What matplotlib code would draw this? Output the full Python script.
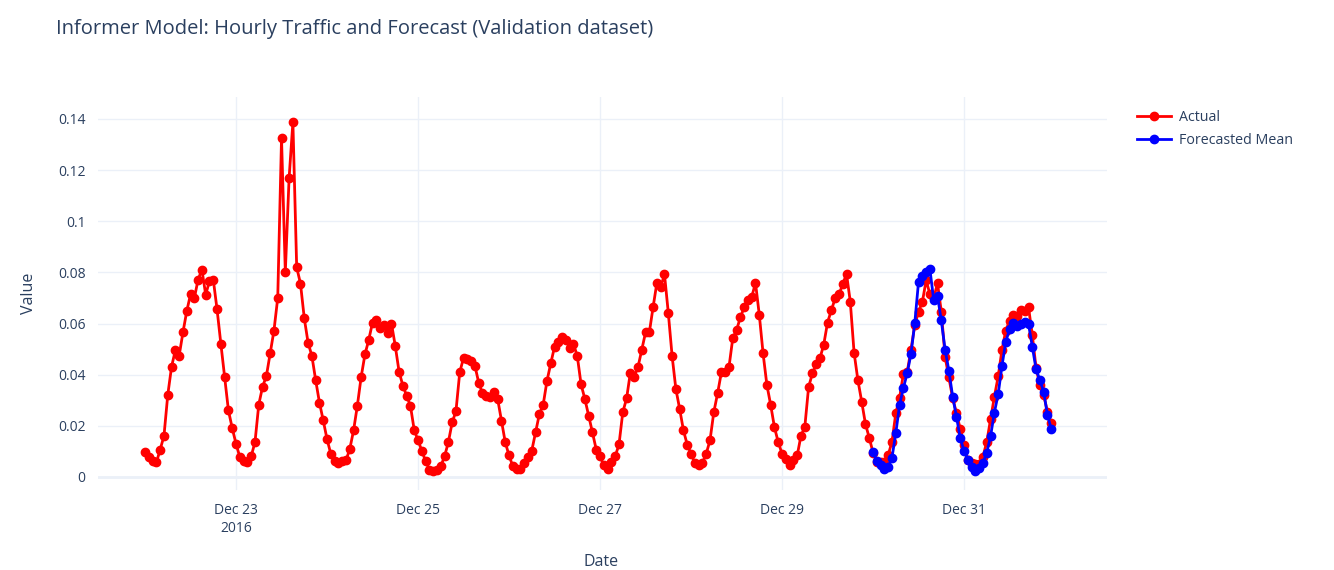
import numpy as np
import pandas as pd
import matplotlib
matplotlib.use("Agg")
import matplotlib.pyplot as plt
import matplotlib.dates as mdates

# hourly values, Dec 22 00:00 -> Dec 31 23:00 (2016)
actual = [
    # Dec 22
    0.0096, 0.0077, 0.0064, 0.0057, 0.0107, 0.0161, 0.0321, 0.0431, 0.0496, 0.0474, 0.0565, 0.0648,
    0.0714, 0.0699, 0.0772, 0.0811, 0.0713, 0.0766, 0.0772, 0.0655, 0.0521, 0.0392, 0.0260, 0.0191,
    # Dec 23
    0.0130, 0.0078, 0.0061, 0.0057, 0.0081, 0.0136, 0.0283, 0.0353, 0.0394, 0.0483, 0.0572, 0.0700,
    0.1324, 0.0801, 0.1170, 0.1387, 0.0820, 0.0756, 0.0621, 0.0525, 0.0474, 0.0379, 0.0291, 0.0221,
    # Dec 24
    0.0148, 0.0090, 0.0061, 0.0055, 0.0061, 0.0065, 0.0109, 0.0182, 0.0279, 0.0391, 0.0479, 0.0536,
    0.0604, 0.0613, 0.0582, 0.0595, 0.0564, 0.0600, 0.0512, 0.0412, 0.0357, 0.0317, 0.0278, 0.0183,
    # Dec 25
    0.0143, 0.0103, 0.0061, 0.0029, 0.0022, 0.0026, 0.0042, 0.0081, 0.0136, 0.0213, 0.0257, 0.0409,
    0.0466, 0.0460, 0.0455, 0.0435, 0.0369, 0.0327, 0.0318, 0.0314, 0.0334, 0.0305, 0.0220, 0.0136,
    # Dec 26
    0.0084, 0.0042, 0.0031, 0.0032, 0.0055, 0.0078, 0.0103, 0.0174, 0.0246, 0.0282, 0.0375, 0.0444,
    0.0509, 0.0526, 0.0546, 0.0535, 0.0503, 0.0520, 0.0473, 0.0362, 0.0305, 0.0240, 0.0174, 0.0107,
    # Dec 27
    0.0081, 0.0045, 0.0032, 0.0057, 0.0081, 0.0127, 0.0253, 0.0307, 0.0408, 0.0392, 0.0429, 0.0498,
    0.0565, 0.0565, 0.0665, 0.0760, 0.0743, 0.0792, 0.0642, 0.0474, 0.0344, 0.0266, 0.0182, 0.0126,
    # Dec 28
    0.0091, 0.0055, 0.0048, 0.0055, 0.0091, 0.0143, 0.0253, 0.0327, 0.0409, 0.0409, 0.0429, 0.0542,
    0.0574, 0.0624, 0.0663, 0.0691, 0.0704, 0.0759, 0.0634, 0.0483, 0.0360, 0.0282, 0.0194, 0.0136,
    # Dec 29
    0.0091, 0.0070, 0.0045, 0.0068, 0.0084, 0.0162, 0.0195, 0.0351, 0.0405, 0.0440, 0.0464, 0.0518,
    0.0604, 0.0652, 0.0698, 0.0714, 0.0753, 0.0795, 0.0685, 0.0486, 0.0379, 0.0295, 0.0207, 0.0153,
    # Dec 30
    0.0095, 0.0058, 0.0060, 0.0060, 0.0086, 0.0138, 0.0249, 0.0310, 0.0403, 0.0410, 0.0497, 0.0594,
    0.0647, 0.0684, 0.0769, 0.0715, 0.0700, 0.0757, 0.0647, 0.0470, 0.0390, 0.0308, 0.0250, 0.0187,
    # Dec 31
    0.0125, 0.0066, 0.0056, 0.0050, 0.0052, 0.0080, 0.0138, 0.0225, 0.0314, 0.0393, 0.0497, 0.0572,
    0.0611, 0.0633, 0.0630, 0.0653, 0.0650, 0.0664, 0.0555, 0.0425, 0.0360, 0.0320, 0.0255, 0.0210,
]

# forecast mean, Dec 30 00:00 -> Dec 31 23:00
forecast = [
    0.0097, 0.0063, 0.0047, 0.0030, 0.0037, 0.0076, 0.0172, 0.0282, 0.0348, 0.0405, 0.0481, 0.0601,
    0.0764, 0.0786, 0.0800, 0.0812, 0.0692, 0.0708, 0.0612, 0.0498, 0.0416, 0.0314, 0.0236, 0.0151,
    0.0103, 0.0066, 0.0040, 0.0022, 0.0034, 0.0056, 0.0095, 0.0160, 0.0252, 0.0324, 0.0434, 0.0529,
    0.0577, 0.0601, 0.0592, 0.0598, 0.0607, 0.0598, 0.0510, 0.0421, 0.0379, 0.0333, 0.0242, 0.0188,
]

dates = pd.date_range("2016-12-22 00:00", periods=len(actual), freq="h")
fc_dates = pd.date_range("2016-12-30 00:00", periods=len(forecast), freq="h")

xtick_dates = pd.to_datetime(["2016-12-23", "2016-12-25", "2016-12-27", "2016-12-29", "2016-12-31"])
xtick_labels = ["Dec 23\n2016", "Dec 25", "Dec 27", "Dec 29", "Dec 31"]
ytick_vals = [0, 0.02, 0.04, 0.06, 0.08, 0.1, 0.12, 0.14]
ytick_labels = ["0", "0.02", "0.04", "0.06", "0.08", "0.1", "0.12", "0.14"]

txt = "#2a3f5f"
grid = "#ebf0f8"
plt.rcParams["font.family"] = ["Open Sans", "DejaVu Sans"]

fig = plt.figure(figsize=(13.34, 5.7), dpi=100)
ax = fig.add_axes([98 / 1334, 1 - 490 / 570, (1107 - 98) / 1334, (490 - 97) / 570])

ax.plot(dates, actual, color="red", lw=2, marker="o", ms=6, label="Actual", zorder=3)
ax.plot(fc_dates, forecast, color="blue", lw=2, marker="o", ms=6, label="Forecasted Mean", zorder=4)

ax.set_xlim(pd.Timestamp("2016-12-21 11:36"), pd.Timestamp("2017-01-01 13:42"))
ax.set_ylim(-0.0051, 0.1486)

ax.set_xticks(xtick_dates)
ax.set_xticklabels(xtick_labels, linespacing=1.35)
ax.set_yticks(ytick_vals)
ax.set_yticklabels(ytick_labels)
ax.tick_params(length=0, labelsize=10, labelcolor=txt)
ax.tick_params(axis="x", pad=9)
ax.tick_params(axis="y", pad=9)
ax.grid(True, color=grid, lw=1)
ax.axhline(0, color=grid, lw=2, zorder=1)
ax.set_axisbelow(True)
for s in ax.spines.values():
    s.set_visible(False)

ax.set_xlabel("Date", fontsize=11.5, color=txt)
ax.set_ylabel("Value", fontsize=11.5, color=txt)
ax.xaxis.set_label_coords(0.4985, (490 - 554) / 393)
ax.yaxis.set_label_coords((37 - 98) / 1009, 0.5)

fig.text(56 / 1334, 1 - 29 / 570, "Informer Model: Hourly Traffic and Forecast (Validation dataset)",
         fontsize=14.5, color=txt, va="center", ha="left")

leg = fig.legend(loc="upper left", bbox_to_anchor=(1131 / 1334, 1 - 104 / 570), frameon=False,
                 fontsize=10.3, labelcolor=txt, handlelength=2.4, numpoints=1,
                 borderaxespad=0, handletextpad=0.55, labelspacing=0.55)

fig.savefig("out.png", dpi=100)
